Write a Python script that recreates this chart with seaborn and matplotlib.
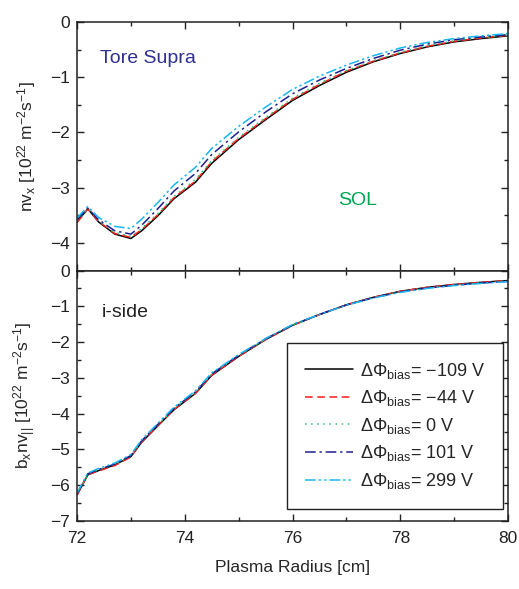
import numpy as np
import pandas as pd
import matplotlib
matplotlib.use("Agg")
import matplotlib.pyplot as plt
from matplotlib.ticker import MultipleLocator
import seaborn as sns

# Radial grid of the simulation output [cm]
radius = [72.0, 72.2, 72.4, 72.7, 73.0, 73.2, 73.5, 73.8, 74.2, 74.5, 75.0,
          75.5, 76.0, 76.5, 77.0, 77.5, 78.0, 78.5, 79.0, 79.5, 80.0]

bias_labels = [r"$\Delta\Phi_{\mathregular{bias}}$= $-$109 V",
               r"$\Delta\Phi_{\mathregular{bias}}$= $-$44 V",
               r"$\Delta\Phi_{\mathregular{bias}}$= 0 V",
               r"$\Delta\Phi_{\mathregular{bias}}$= 101 V",
               r"$\Delta\Phi_{\mathregular{bias}}$= 299 V"]

# Radial particle flux nv_x [1e22 m^-2 s^-1]
nvx_m109 = [-3.62, -3.38, -3.62, -3.84, -3.92, -3.78, -3.51, -3.20, -2.90, -2.56, -2.13,
            -1.77, -1.42, -1.15, -0.91, -0.72, -0.57, -0.45, -0.36, -0.30, -0.25]
nvx_m44 = [-3.63, -3.39, -3.61, -3.83, -3.90, -3.76, -3.49, -3.18, -2.88, -2.53, -2.11,
           -1.75, -1.40, -1.13, -0.89, -0.71, -0.56, -0.44, -0.35, -0.29, -0.24]
nvx_0 = [-3.60, -3.38, -3.60, -3.81, -3.88, -3.74, -3.47, -3.16, -2.85, -2.51, -2.09,
         -1.73, -1.38, -1.11, -0.88, -0.70, -0.55, -0.43, -0.34, -0.28, -0.24]
nvx_101 = [-3.58, -3.37, -3.58, -3.78, -3.84, -3.68, -3.38, -3.06, -2.74, -2.40, -1.99,
           -1.63, -1.30, -1.05, -0.84, -0.66, -0.51, -0.40, -0.32, -0.27, -0.23]
nvx_299 = [-3.55, -3.34, -3.54, -3.70, -3.74, -3.57, -3.27, -2.95, -2.63, -2.29, -1.89,
           -1.54, -1.22, -0.98, -0.78, -0.61, -0.47, -0.37, -0.30, -0.25, -0.21]

# Parallel flux b_x nv_par [1e22 m^-2 s^-1]
bnv_m109 = [-6.27, -5.71, -5.59, -5.43, -5.20, -4.80, -4.34, -3.89, -3.43, -2.93, -2.40,
            -1.93, -1.53, -1.23, -0.96, -0.75, -0.58, -0.47, -0.39, -0.33, -0.28]
bnv_m44 = [-6.28, -5.70, -5.60, -5.45, -5.21, -4.79, -4.33, -3.88, -3.43, -2.92, -2.40,
           -1.93, -1.53, -1.23, -0.96, -0.75, -0.58, -0.47, -0.39, -0.33, -0.28]
bnv_0 = [-6.25, -5.69, -5.57, -5.42, -5.18, -4.77, -4.31, -3.86, -3.41, -2.90, -2.38,
         -1.92, -1.52, -1.23, -0.96, -0.75, -0.59, -0.48, -0.40, -0.34, -0.29]
bnv_101 = [-6.24, -5.68, -5.56, -5.41, -5.17, -4.76, -4.30, -3.85, -3.39, -2.89, -2.37,
           -1.91, -1.52, -1.23, -0.96, -0.76, -0.60, -0.49, -0.41, -0.35, -0.30]
bnv_299 = [-6.22, -5.66, -5.53, -5.38, -5.14, -4.73, -4.27, -3.82, -3.36, -2.86, -2.35,
           -1.90, -1.51, -1.23, -0.97, -0.77, -0.61, -0.50, -0.42, -0.36, -0.31]

nvx_series = [nvx_m109, nvx_m44, nvx_0, nvx_101, nvx_299]
bnv_series = [bnv_m109, bnv_m44, bnv_0, bnv_101, bnv_299]

colors = ["#000000", "#ff1a1a", "#2fbf71", "#1f1f8f", "#19b6f0"]
styles = ["-", (0, (5, 3)), (0, (1, 3)), (0, (7, 2.5, 1.5, 2.5)),
          (0, (7, 2, 1.5, 2, 1.5, 2))]

sns.set_style("ticks")
plt.rcParams["font.family"] = ["Liberation Sans", "DejaVu Sans"]
plt.rcParams["mathtext.fontset"] = "custom"
plt.rcParams["mathtext.rm"] = "Liberation Sans"
plt.rcParams["mathtext.it"] = "Liberation Sans:italic"
plt.rcParams["mathtext.default"] = "regular"

fig = plt.figure(figsize=(5.19, 5.89), dpi=100)
L, R = 0.1484, 0.9788
mid = 0.5407
ax1 = fig.add_axes([L, mid, R - L, 0.9626 - mid])
ax2 = fig.add_axes([L, 0.1154, R - L, mid - 0.1154])

for ax, series in ((ax1, nvx_series), (ax2, bnv_series)):
    for vals, col, ls, lab in zip(series, colors, styles, bias_labels):
        df = pd.DataFrame({"r": radius, "v": vals})
        sns.lineplot(data=df, x="r", y="v", ax=ax, color=col, linestyle=ls,
                     linewidth=1.1, label=lab, legend=False)

for ax in (ax1, ax2):
    ax.set_xlim(72, 80)
    ax.xaxis.set_major_locator(MultipleLocator(2))
    ax.xaxis.set_minor_locator(MultipleLocator(1))
    ax.yaxis.set_major_locator(MultipleLocator(1))
    ax.yaxis.set_minor_locator(MultipleLocator(0.5))
    ax.tick_params(which="both", direction="in", top=True, right=True,
                   labelsize=12.5, colors="#222222", width=1)
    ax.tick_params(which="major", length=5)
    ax.tick_params(which="minor", length=3)
    ax.tick_params(axis="x", which="major", pad=7.5)
    ax.tick_params(axis="y", which="major", pad=5)
    for s in ax.spines.values():
        s.set_linewidth(1.1)
        s.set_color("#222222")

ax1.set_ylim(-4.5, 0)
ax1.set_yticks([0, -1, -2, -3, -4])
ax1.tick_params(labelbottom=False)
ax1.set_xlabel("")
ax1.set_ylabel(r"nv$_x$ [10$^{22}$ m$^{-2}$s$^{-1}$]", fontsize=12.5, labelpad=9)

ax2.set_ylim(-7, 0)
ax2.set_xlabel("Plasma Radius [cm]", fontsize=12.5, labelpad=10)
ax2.set_ylabel(r"b$_x$nv$_{||}$ [10$^{22}$ m$^{-2}$s$^{-1}$]", fontsize=12.5, labelpad=9)

ax1.text(0.053, 0.855, "Tore Supra", transform=ax1.transAxes, color="#2e3192",
         fontsize=14, va="center", ha="left")
ax1.text(0.652, 0.282, "SOL", transform=ax1.transAxes, color="#00a651",
         fontsize=14, va="center", ha="center")
ax2.text(0.058, 0.832, "i-side", transform=ax2.transAxes, color="#222222",
         fontsize=14, va="center", ha="left")

handles, labels = ax2.get_legend_handles_labels()
leg = ax2.legend(handles, labels, loc="lower right", bbox_to_anchor=(0.988, 0.048),
                 borderaxespad=0, fancybox=False, edgecolor="#222222",
                 fontsize=13, handlelength=2.65, labelspacing=0.42,
                 borderpad=1.0, handletextpad=0.35, framealpha=1)
leg.get_frame().set_linewidth(1.0)

fig.savefig("out.png", dpi=100)
